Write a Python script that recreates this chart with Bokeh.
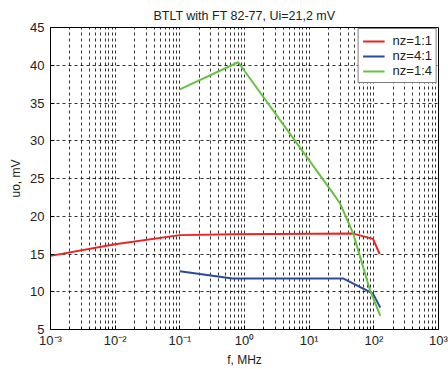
from bokeh.plotting import figure
from bokeh.models import FixedTicker, Range1d, Legend, LegendItem
from bokeh.embed import file_html
from bokeh.resources import INLINE

# data
red_f = [0.001, 0.01, 0.1, 0.7, 48, 97, 123]
red_u = [14.75, 16.3, 17.5, 17.6, 17.7, 17.0, 15.0]
blue_f = [0.1, 0.65, 34, 97, 126]
blue_u = [12.7, 11.75, 11.75, 9.75, 7.9]
green_f = [0.1, 0.8, 22.7, 30, 48, 88, 126]
green_u = [36.8, 40.4, 23.2, 21.7, 17.7, 10.1, 6.8]
series_names = ["nz=1:1", "nz=4:1", "nz=1:4"]

x_ticks = [1e-3, 1e-2, 1e-1, 1e0, 1e1, 1e2, 1e3]
x_tick_labels = ["10\u207b\u00b3", "10\u207b\u00b2", "10\u207b\u00b9", "10\u2070", "10\u00b9", "10\u00b2", "10\u00b3"]
y_ticks = [5, 10, 15, 20, 25, 30, 35, 40, 45]
minor_x = [m * d for d in [1e-3, 1e-2, 1e-1, 1e0, 1e1, 1e2] for m in range(2, 10)]

FONT = "Liberation Sans"

p = figure(width=448, height=369, x_axis_type="log", output_backend="svg",
           toolbar_location=None, x_range=Range1d(1e-3, 1e3), y_range=Range1d(5, 45),
           min_border_left=50, min_border_right=10, min_border_top=27, min_border_bottom=37)

p.title.text = "BTLT with FT 82-77, Ui=21,2 mV"
p.title.align = "center"
p.title.text_font = FONT
p.title.text_font_size = "12.5px"
p.title.text_font_style = "normal"
p.title.text_color = "#222222"
p.title.standoff = 10
p.title.offset = 0

p.outline_line_color = "black"
p.outline_line_width = 1
p.outline_line_alpha = 1

p.xaxis.ticker = FixedTicker(ticks=x_ticks, minor_ticks=minor_x)
p.xaxis.major_label_overrides = {t: l for t, l in zip(x_ticks, x_tick_labels)}
p.yaxis.ticker = FixedTicker(ticks=y_ticks)

for ax in (p.xaxis, p.yaxis):
    ax.axis_line_color = "black"
    ax.major_tick_in = 4
    ax.major_tick_out = 0
    ax.minor_tick_in = 2
    ax.minor_tick_out = 0
    ax.major_tick_line_color = "black"
    ax.minor_tick_line_color = "black"
    ax.major_label_text_font = FONT
    ax.major_label_text_font_size = "13px"
    ax.major_label_text_color = "#222222"
    ax.axis_label_text_font = FONT
    ax.axis_label_text_font_size = "12px"
    ax.axis_label_text_font_style = "normal"
    ax.axis_label_text_color = "#222222"
p.yaxis.minor_tick_line_color = None
p.xaxis.axis_label = "f, MHz"
p.yaxis.axis_label = "uo, mV"
p.xaxis.major_label_standoff = 3
p.xaxis.axis_label_standoff = 2
p.yaxis.major_label_standoff = 6
p.yaxis.axis_label_standoff = 4

p.xgrid.grid_line_color = "black"
p.xgrid.grid_line_dash = "3 3"
p.xgrid.grid_line_alpha = 0.8
p.xgrid.minor_grid_line_color = "black"
p.xgrid.minor_grid_line_dash = "3 3"
p.xgrid.minor_grid_line_alpha = 0.8
p.ygrid.grid_line_color = "black"
p.ygrid.grid_line_dash = "3 3"
p.ygrid.grid_line_alpha = 0.8

r1 = p.line(red_f, red_u, line_color="#ee2222", line_width=2)
r2 = p.line(blue_f, blue_u, line_color="#2a4a9e", line_width=2)
r3 = p.line(green_f, green_u, line_color="#66c23f", line_width=2)

legend = Legend(items=[LegendItem(label=series_names[0], renderers=[r1]),
                       LegendItem(label=series_names[1], renderers=[r2]),
                       LegendItem(label=series_names[2], renderers=[r3])],
                location="top_right", margin=1, padding=4, spacing=0,
                glyph_width=22, glyph_height=14, label_height=14, label_standoff=8,
                label_text_font=FONT, label_text_font_size="13px", label_text_color="#222222",
                border_line_color="black", border_line_width=1,
                background_fill_color="white", background_fill_alpha=1)
p.add_layout(legend, "center")

open("out.html", "w").write(file_html(p, INLINE))
